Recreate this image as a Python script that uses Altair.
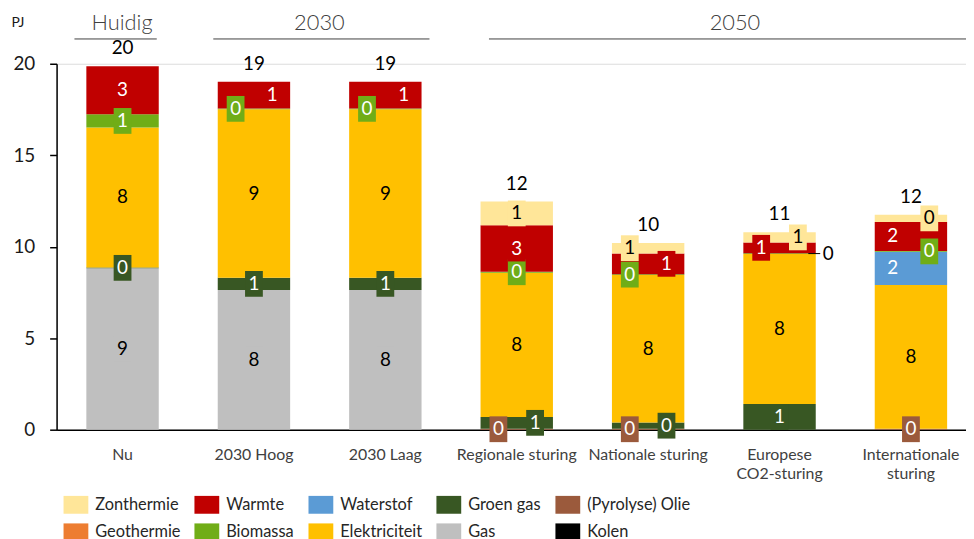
import altair as alt
import pandas as pd

# ---------------- data ----------------
categories = ["Nu", "2030 Hoog", "2030 Laag", "Regionale sturing",
              "Nationale sturing", "Europese CO2-sturing", "Internationale sturing"]

# stacking order, bottom -> top
series_stack = ["Kolen", "(Pyrolyse) Olie", "Gas", "Groen gas", "Elektriciteit",
                "Waterstof", "Biomassa", "Geothermie", "Warmte", "Zonthermie"]
# legend entries, filled column by column (2 rows x 5 columns)
legend_order = ["Zonthermie", "Geothermie", "Warmte", "Biomassa", "Waterstof",
                "Elektriciteit", "Groen gas", "Gas", "(Pyrolyse) Olie", "Kolen"]

kolen = [0, 0, 0, 0, 0, 0, 0]
olie = [0, 0, 0, 0.05, 0.05, 0, 0.05]
gas = [8.82, 7.64, 7.64, 0, 0, 0, 0]
groen_gas = [0.05, 0.66, 0.66, 0.65, 0.34, 1.40, 0]
elektriciteit = [7.64, 9.21, 9.21, 7.88, 8.06, 8.20, 7.86]
waterstof = [0, 0, 0, 0, 0, 0, 1.81]
biomassa = [0.73, 0.05, 0.05, 0.05, 0.05, 0.05, 0.05]
geothermie = [0, 0, 0, 0, 0, 0, 0]
warmte = [2.62, 1.45, 1.45, 2.54, 1.13, 0.58, 1.58]
zonthermie = [0, 0, 0, 1.30, 0.58, 0.56, 0.40]

values = {
    "Kolen": kolen, "(Pyrolyse) Olie": olie, "Gas": gas, "Groen gas": groen_gas,
    "Elektriciteit": elektriciteit, "Waterstof": waterstof, "Biomassa": biomassa,
    "Geothermie": geothermie, "Warmte": warmte, "Zonthermie": zonthermie,
}

colors = {
    "Zonthermie": "#FFE699", "Warmte": "#C00000", "Waterstof": "#5B9BD5",
    "Groen gas": "#385723", "(Pyrolyse) Olie": "#9B5A3C", "Geothermie": "#ED7D31",
    "Biomassa": "#70AD17", "Elektriciteit": "#FFC000", "Gas": "#BFBFBF", "Kolen": "#000000",
}
light_series = {"Zonthermie", "Elektriciteit", "Gas"}

# label placement (L = left, R = right, O = outside with leader, default centre)
label_side = {
    ("2030 Hoog", "Biomassa"): "L", ("2030 Hoog", "Warmte"): "R",
    ("2030 Laag", "Biomassa"): "L", ("2030 Laag", "Warmte"): "R",
    ("Regionale sturing", "(Pyrolyse) Olie"): "L", ("Regionale sturing", "Groen gas"): "R",
    ("Nationale sturing", "(Pyrolyse) Olie"): "L", ("Nationale sturing", "Groen gas"): "R",
    ("Nationale sturing", "Biomassa"): "L", ("Nationale sturing", "Warmte"): "R",
    ("Nationale sturing", "Zonthermie"): "L",
    ("Europese CO2-sturing", "Warmte"): "L", ("Europese CO2-sturing", "Zonthermie"): "R",
    ("Europese CO2-sturing", "Biomassa"): "O",
    ("Internationale sturing", "Waterstof"): "L", ("Internationale sturing", "Warmte"): "L",
    ("Internationale sturing", "Biomassa"): "R", ("Internationale sturing", "Zonthermie"): "R",
}
cat_lines = {"Europese CO2-sturing": ["Europese", "CO2-sturing"],
             "Internationale sturing": ["Internationale", "sturing"]}

rows = []
for ci, cat in enumerate(categories):
    base = 0.0
    for si, s in enumerate(series_stack):
        v = values[s][ci]
        rows.append(dict(cat=cat, series=s, order=si, y0=base, y1=base + v,
                         mid=base + v / 2, v=v,
                         side=label_side.get((cat, s), "C"),
                         box=colors[s],
                         txt="#000000" if s in light_series else "#FFFFFF"))
        base += v
df = pd.DataFrame(rows)
lab = df[df.v > 0].copy()
tot = df.groupby("cat", sort=False)["v"].sum().reset_index()

# ---------------- encodings ----------------
FONT = "Lato"
label_expr = " : ".join(
    [f"datum.value == '{k}' ? {v!r}" for k, v in cat_lines.items()] + ["datum.value"])

xscale = alt.Scale(domain=categories, paddingInner=0.449, paddingOuter=0.185, align=0.612)
xaxis = alt.Axis(title=None, ticks=False, domainColor="black", domainWidth=1.5,
                 labelPadding=17, labelBaseline="top", labelFontSize=16,
                 labelColor="#404040", labelAngle=0, labelLimit=300, labelOverlap=False,
                 labelLineHeight=19, labelExpr=label_expr, labelFont=FONT)
yscale = alt.Scale(domain=[0, 20], nice=False, zero=True)
yaxis = alt.Axis(title=None, values=[0, 5, 10, 15, 20], grid=False, domainColor="black",
                 domainWidth=1.5, tickColor="black", tickWidth=1.5, tickSize=7,
                 labelPadding=15, labelFontSize=19, labelColor="#1a1a1a", labelFont=FONT)


def X():
    return alt.X("cat:N", sort=categories, scale=xscale, axis=xaxis)


def Y(field):
    return alt.Y(f"{field}:Q", scale=yscale, axis=yaxis)


legend = alt.Legend(title=None, orient="none", legendX=7, legendY=432, columns=5,
                    symbolType="M-1,-0.72H1V0.72H-1Z", symbolSize=625,
                    symbolStrokeWidth=0, symbolOpacity=1, labelFontSize=16.5,
                    labelOffset=7, columnPadding=14, rowPadding=6,
                    labelColor="#262626", labelFont=FONT, gridAlign="each",
                    padding=0, labelLimit=250)

bars = alt.Chart(df).mark_bar().encode(
    x=X(), y=Y("y1"), y2="y0:Q",
    color=alt.Color("series:N",
                    scale=alt.Scale(domain=legend_order,
                                    range=[colors[s] for s in legend_order]),
                    legend=legend),
)

BOX = "M-0.69,-1H0.69V1H-0.69Z"
offsets = {"L": -18.5, "C": 0, "R": 18.5}
layers = [bars]
for side, off in offsets.items():
    sub = lab[lab.side == side]
    if len(sub) == 0:
        continue
    layers.append(alt.Chart(sub).mark_point(
        shape=BOX, size=676, filled=True, opacity=1, strokeWidth=0, xOffset=off
    ).encode(x=X(), y=Y("mid"), fill=alt.Fill("box:N", scale=None)))
for side, off in offsets.items():
    sub = lab[lab.side == side]
    if len(sub) == 0:
        continue
    layers.append(alt.Chart(sub).mark_text(
        fontSize=19, font=FONT, baseline="middle", xOffset=off
    ).encode(x=X(), y=Y("mid"), text=alt.Text("v:Q", format=".0f"),
             fill=alt.Fill("txt:N", scale=None)))

out = lab[lab.side == "O"]
layers.append(alt.Chart(out).mark_tick(orient="horizontal", size=12, thickness=1,
                                       color="black", xOffset=35, opacity=1)
              .encode(x=X(), y=Y("mid")))
layers.append(alt.Chart(out).mark_text(fontSize=19, font=FONT, baseline="middle",
                                       color="black", xOffset=49)
              .encode(x=X(), y=Y("mid"), text=alt.Text("v:Q", format=".0f")))

layers.append(alt.Chart(tot).mark_text(fontSize=19, font=FONT, baseline="middle",
                                       color="black", dy=-18)
              .encode(x=X(), y=Y("v"), text=alt.Text("v:Q", format=".0f")))

# group headers
headers = [("Huidig", 66, 18, 101), ("2030", 265, 158, 376), ("2050", 684, 436, 917)]
for txt, xc, xa, xb in headers:
    hd = pd.DataFrame({"t": [txt]})
    layers.append(alt.Chart(hd).mark_text(fontSize=22, font=FONT, fontWeight=300,
                                          color="#404040", baseline="middle")
                  .encode(text="t:N", x=alt.value(xc), y=alt.value(-41)))
    layers.append(alt.Chart(hd).mark_rule(color="#404040", strokeWidth=1)
                  .encode(x=alt.value(xa), x2=alt.value(xb), y=alt.value(-25)))

layers.append(alt.Chart(pd.DataFrame({"t": ["PJ"]})).mark_text(
    fontSize=14, font=FONT, color="#1a1a1a", baseline="middle")
    .encode(text="t:N", x=alt.value(-39), y=alt.value(-41)))

chart = alt.layer(*layers).properties(
    width=917, height=369,
    padding={"left": 49, "top": 54, "right": 0, "bottom": 108},
    autosize=alt.AutoSizeParams(type="none"),
).configure_view(stroke="transparent").configure(font=FONT, background="white")

chart.save("out.html", embed_options={"renderer": "svg", "actions": False})
